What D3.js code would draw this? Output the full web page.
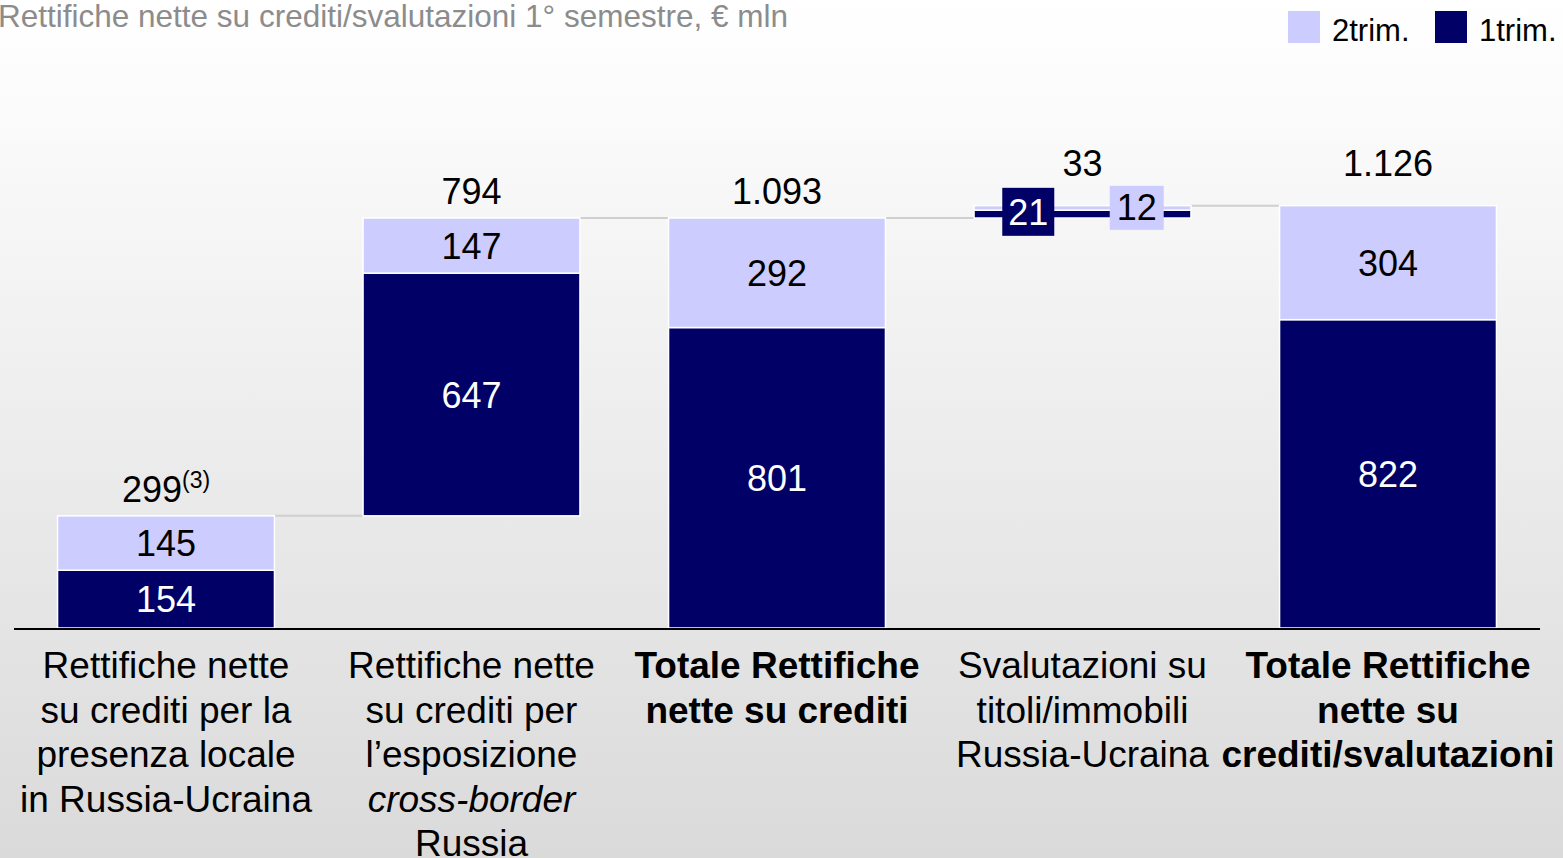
<!DOCTYPE html>
<html>
<head>
<meta charset="utf-8">
<script src="https://cdn.jsdelivr.net/npm/d3@7"></script>
<style>
  html, body { margin: 0; padding: 0; overflow: hidden; }
  svg { display: block; font-family: "Liberation Sans", Arial, sans-serif; }
</style>
</head>
<body>
<svg id="chart" width="1563" height="858"></svg>
<script>
// values in € mln
const categories = [
    [['Rettifiche nette'], ['su crediti per la'], ['presenza locale'], ['in Russia-Ucraina']],
    [['Rettifiche nette'], ['su crediti per'], ['l\u2019esposizione'], ['cross-border', 'italic'], ['Russia']],
    [['Totale Rettifiche', 'bold'], ['nette su crediti', 'bold']],
    [['Svalutazioni su'], ['titoli/immobili'], ['Russia-Ucraina']],
    [['Totale Rettifiche', 'bold'], ['nette su', 'bold'], ['crediti/svalutazioni', 'bold']]
]
const kinds = ['start', 'delta', 'total', 'delta', 'total']
const trim1 = [154, 647, 801, 21, 822]
const trim2 = [145, 147, 292, 12, 304]
const totalLabels = ['299', '794', '1.093', '33', '1.126']
const legendItems = ['2trim.', '1trim.']

const dark = '#000066'
const light = '#ccccff'

const width = 1563
const height = 858
const svg = d3.select('#chart')

// background
const defs = svg.append('defs')
const grad = defs.append('linearGradient').attr('id', 'bg').attr('x1', 0).attr('x2', 0).attr('y1', 0).attr('y2', 1)
grad.append('stop').attr('offset', '0%').attr('stop-color', '#ffffff')
grad.append('stop').attr('offset', '10%').attr('stop-color', '#fcfcfc')
grad.append('stop').attr('offset', '100%').attr('stop-color', '#dadada')
svg.append('rect').attr('width', width).attr('height', height).attr('fill', 'url(#bg)')

// waterfall layout
let running = 0
const bars = trim1.map((v, i) => {
    const total = v + trim2[i]
    let base = 0
    if (kinds[i] === 'delta') base = running
    const top = base + total
    running = top
    return { i, base, mid: base + v, top, q1: v, q2: trim2[i], label: totalLabels[i] }
})

const x = d3.scaleBand()
    .domain(d3.range(categories.length))
    .range([13.25, 1540.75])
    .paddingInner(0.29)
    .paddingOuter(0.145)

const y = d3.scaleLinear().domain([0, 1200]).range([628, 628 - 1200 * 0.3751])

// connectors
const conn = svg.append('g')
bars.slice(0, -1).forEach(b => {
    conn.append('line')
        .attr('x1', x(b.i) + x.bandwidth())
        .attr('x2', x(b.i + 1))
        .attr('y1', y(b.top))
        .attr('y2', y(b.top))
        .attr('stroke', '#cfcfcf')
        .attr('stroke-width', 2)
})

// bars
const g = svg.append('g')
g.selectAll('rect.q1').data(bars).enter().append('rect')
    .attr('x', d => x(d.i))
    .attr('width', x.bandwidth())
    .attr('y', d => y(d.mid))
    .attr('height', d => y(d.base) - y(d.mid))
    .attr('fill', dark)
    .attr('stroke', '#fff')
    .attr('stroke-width', 1.5)

g.selectAll('rect.q2').data(bars).enter().append('rect')
    .attr('x', d => x(d.i))
    .attr('width', x.bandwidth())
    .attr('y', d => y(d.top))
    .attr('height', d => y(d.mid) - y(d.top))
    .attr('fill', light)
    .attr('stroke', '#fff')
    .attr('stroke-width', 1.5)

// segment labels
bars.forEach(d => {
    const small = (y(d.base) - y(d.top)) < 40
    if (!small) {
        g.append('text')
            .attr('x', x(d.i) + x.bandwidth() / 2)
            .attr('y', (y(d.base) + y(d.mid)) / 2 + 13)
            .attr('text-anchor', 'middle')
            .attr('font-size', 36)
            .attr('fill', '#fff')
            .text(d.q1)
        g.append('text')
            .attr('x', x(d.i) + x.bandwidth() / 2)
            .attr('y', (y(d.mid) + y(d.top)) / 2 + 13)
            .attr('text-anchor', 'middle')
            .attr('font-size', 36)
            .attr('fill', '#000')
            .text(d.q2)
    } else {
        // thin bar: labels in boxes at quarter points
        const cy = (y(d.base) + y(d.top)) / 2
        const x1 = x(d.i) + x.bandwidth() * 0.25
        const x2 = x(d.i) + x.bandwidth() * 0.75
        g.append('rect').attr('x', x1 - 26).attr('y', cy - 24).attr('width', 52).attr('height', 48).attr('fill', dark)
        g.append('text').attr('x', x1).attr('y', cy + 13).attr('text-anchor', 'middle')
            .attr('font-size', 36).attr('fill', '#fff').text(d.q1)
        g.append('rect').attr('x', x2 - 27).attr('y', cy - 26).attr('width', 54).attr('height', 44).attr('fill', light)
        g.append('text').attr('x', x2).attr('y', cy + 8).attr('text-anchor', 'middle')
            .attr('font-size', 36).attr('fill', '#000').text(d.q2)
    }
})

// total labels above bars
bars.forEach(d => {
    const off = d.i >= 3 ? 30 : 14
    const t = g.append('text')
        .attr('x', x(d.i) + x.bandwidth() / 2)
        .attr('y', y(d.top) - off)
        .attr('text-anchor', 'middle')
        .attr('font-size', 36)
        .attr('fill', '#000')
    t.append('tspan').text(d.label)
    if (d.i === 0) {
        t.append('tspan').attr('font-size', 23).attr('dy', -14).text('(3)')
    }
})

// baseline
svg.append('line')
    .attr('x1', 14).attr('x2', 1540)
    .attr('y1', y(0) + 1).attr('y2', y(0) + 1)
    .attr('stroke', '#000').attr('stroke-width', 2)

// category labels
categories.forEach((lines, i) => {
    const t = svg.append('text')
        .attr('text-anchor', 'middle')
        .attr('font-size', 37)
        .attr('fill', '#000')
    lines.forEach((ln, k) => {
        t.append('tspan')
            .attr('x', x(i) + x.bandwidth() / 2)
            .attr('y', 678 + k * 44.5)
            .attr('font-weight', ln[1] === 'bold' ? 'bold' : null)
            .attr('font-style', ln[1] === 'italic' ? 'italic' : null)
            .text(ln[0])
    })
})

// title
svg.append('text')
    .attr('x', -2).attr('y', 27)
    .attr('font-size', 31.5)
    .attr('fill', '#8c8c8c')
    .text('Rettifiche nette su crediti/svalutazioni 1\u00b0 semestre, \u20ac mln')

// legend
const legend = svg.append('g')
const legendColors = [light, dark]
const legendX = [1288, 1435]
legendItems.forEach((name, k) => {
    legend.append('rect').attr('x', legendX[k]).attr('y', 11).attr('width', 32).attr('height', 32)
        .attr('fill', legendColors[k])
    legend.append('text').attr('x', legendX[k] + 44).attr('y', 41)
        .attr('font-size', 31).attr('fill', '#000').text(name)
})
</script>
</body>
</html>
